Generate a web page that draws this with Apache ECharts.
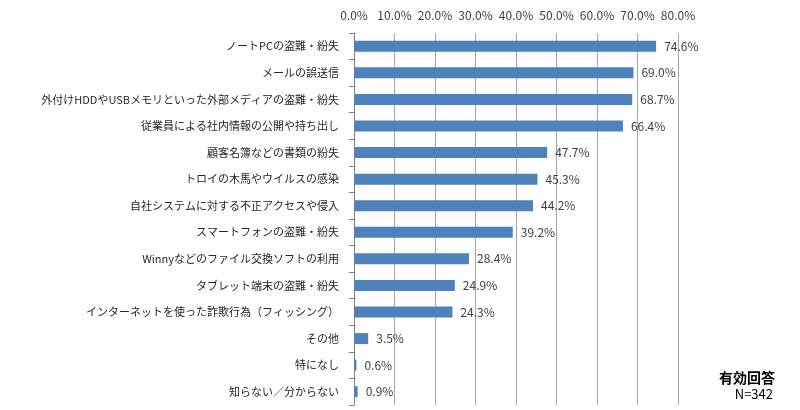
<html>
  <head>
    <meta charset="utf-8">
    <title>情報漏えいの原因</title>
    <script src="https://cdn.jsdelivr.net/npm/echarts@6.0.0/dist/echarts.min.js"></script>
    <style>
      html, body { margin: 0; padding: 0; background: #fff; }
      #main { width: 800px; height: 410px; }
    </style>
  </head>
  <body>
    <div id="main"></div>
    <script type="text/javascript">
      var categories = [
        'ノートPCの盗難・紛失',
        'メールの誤送信',
        '外付けHDDやUSBメモリといった外部メディアの盗難・紛失',
        '従業員による社内情報の公開や持ち出し',
        '顧客名簿などの書類の紛失',
        'トロイの木馬やウイルスの感染',
        '自社システムに対する不正アクセスや侵入',
        'スマートフォンの盗難・紛失',
        'Winnyなどのファイル交換ソフトの利用',
        'タブレット端末の盗難・紛失',
        'インターネットを使った詐欺行為（フィッシング）',
        'その他',
        '特になし',
        '知らない／分からない'
      ];
      var values = [74.6, 69.0, 68.7, 66.4, 47.7, 45.3, 44.2, 39.2, 28.4, 24.9, 24.3, 3.5, 0.6, 0.9];
      var noteTitle = '有効回答';
      var noteN = 'N=342';

      var font = '"Noto Sans CJK JP", "Noto Sans", sans-serif';
      var myChart = echarts.init(document.getElementById('main'));

      var option = {
        animation: false,
        grid: { left: 354, right: 122, top: 33, bottom: 5 },
        xAxis: {
          type: 'value',
          position: 'top',
          min: 0,
          max: 80,
          interval: 10,
          axisLine: { show: false },
          axisTick: { show: false },
          axisLabel: {
            color: '#404040',
            fontSize: 12,
            fontFamily: font,
            margin: 12,
            formatter: function (v) { return v.toFixed(1) + '%'; }
          },
          splitLine: { lineStyle: { color: '#a6a6a6', width: 1 } }
        },
        yAxis: {
          type: 'category',
          inverse: true,
          data: categories,
          axisLine: { lineStyle: { color: '#808080' } },
          axisTick: { show: true, length: 5, lineStyle: { color: '#808080' } },
          axisLabel: {
            color: '#262626',
            fontSize: 11,
            fontFamily: font,
            margin: 15
          }
        },
        series: [{
          type: 'bar',
          data: values,
          barWidth: 11,
          itemStyle: { color: '#4f81bd' },
          label: {
            show: true,
            position: 'right',
            distance: 8,
            color: '#404040',
            fontSize: 12,
            fontFamily: font,
            formatter: function (p) { return p.value.toFixed(1) + '%'; }
          }
        }],
        graphic: [
          {
            type: 'text', right: 25, top: 371,
            style: { text: noteTitle, font: 'bold 14px ' + font, fill: '#000', textAlign: 'right' }
          },
          {
            type: 'text', right: 27, top: 388,
            style: { text: noteN, font: '13px ' + font, fill: '#000', textAlign: 'right' }
          }
        ]
      };

      myChart.setOption(option);
    </script>
  </body>
</html>
